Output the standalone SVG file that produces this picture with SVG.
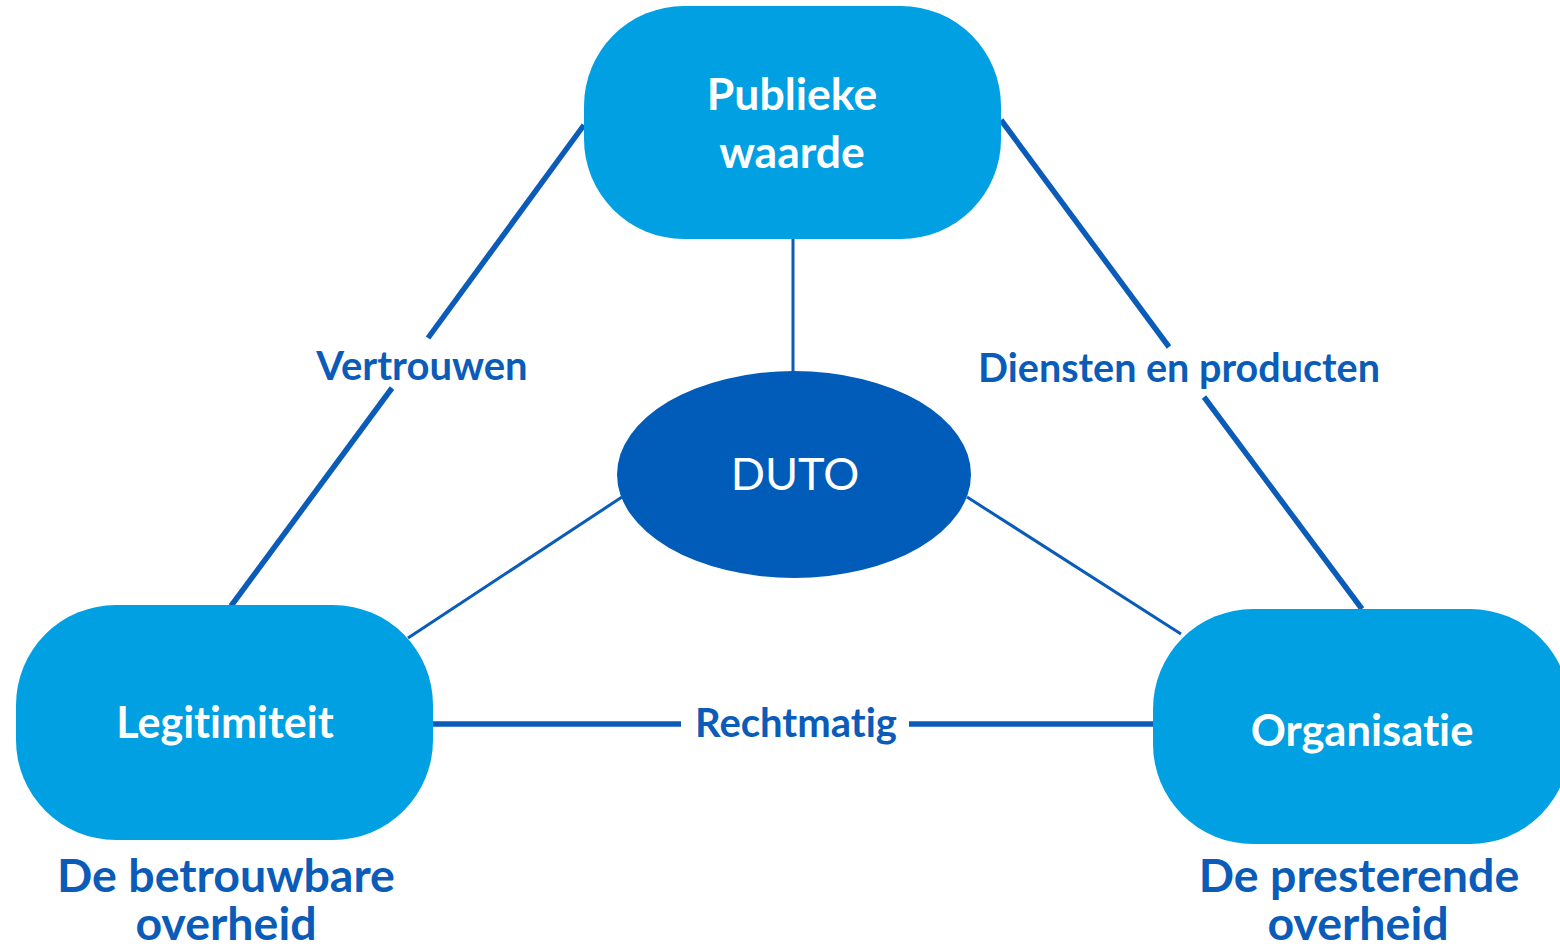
<svg xmlns="http://www.w3.org/2000/svg" width="1560" height="947" viewBox="0 0 1560 947">
<style>
text{font-variant-ligatures:none;font-feature-settings:"liga" 0}
.node{fill:#00A0E3}
.ntext{font-family:Lato,"Open Sans",sans-serif;font-weight:bold;fill:#ffffff;text-anchor:middle}
.lbl{font-family:Lato,"Open Sans",sans-serif;font-weight:bold;fill:#0A5CB8;text-anchor:middle}
.thick{stroke:#0A5CB8;stroke-width:5.5;fill:none}
.thin{stroke:#0A5CB8;stroke-width:3;fill:none}
</style>
<rect width="1560" height="947" fill="#ffffff"/>
<g id="connectors">
<line class="thick" x1="584" y1="125" x2="428" y2="338"/>
<line class="thick" x1="392" y1="388" x2="231" y2="606"/>
<line class="thick" x1="1001" y1="120" x2="1169" y2="347"/>
<line class="thick" x1="1204" y1="397" x2="1362" y2="609"/>
<line class="thin" x1="793" y1="239" x2="793" y2="372"/>
<line class="thin" x1="622" y1="497" x2="408" y2="638"/>
<line class="thin" x1="967" y1="497" x2="1181" y2="634"/>
<line class="thick" x1="433" y1="724" x2="681" y2="724"/>
<line class="thick" x1="909" y1="724" x2="1153" y2="724"/>
<text class="lbl" x="422" y="380" font-size="40">Vertrouwen</text>
<text class="lbl" x="1179" y="382" font-size="39.5">Diensten en producten</text>
<text class="lbl" x="796" y="737" font-size="40">Rechtmatig</text>
</g>
<g id="publieke-waarde">
<rect class="node" x="584" y="6" width="417" height="233" rx="100" ry="100"/>
<text class="ntext" x="792" y="110" font-size="44.5">Publieke</text>
<text class="ntext" x="792" y="168" font-size="44.5">waarde</text>
</g>
<g id="duto">
<ellipse cx="794" cy="474.5" rx="177" ry="103.5" fill="#005CB8"/>
<text x="795" y="490" font-family="Lato,'Open Sans',sans-serif" font-size="45" fill="#ffffff" text-anchor="middle">DUTO</text>
</g>
<g id="legitimiteit">
<rect class="node" x="16" y="605" width="417" height="235" rx="100" ry="100"/>
<text class="ntext" x="225" y="738" font-size="43">Legitimiteit</text>
<text class="lbl" x="226" y="892" font-size="46.5">De betrouwbare</text>
<text class="lbl" x="226" y="940" font-size="46.5">overheid</text>
</g>
<g id="organisatie">
<rect class="node" x="1153" y="609" width="417" height="235" rx="100" ry="100"/>
<text class="ntext" x="1362" y="746" font-size="43.5">Organisatie</text>
<text class="lbl" x="1359" y="892" font-size="46.5">De presterende</text>
<text class="lbl" x="1358" y="940" font-size="46.5">overheid</text>
</g>
</svg>
